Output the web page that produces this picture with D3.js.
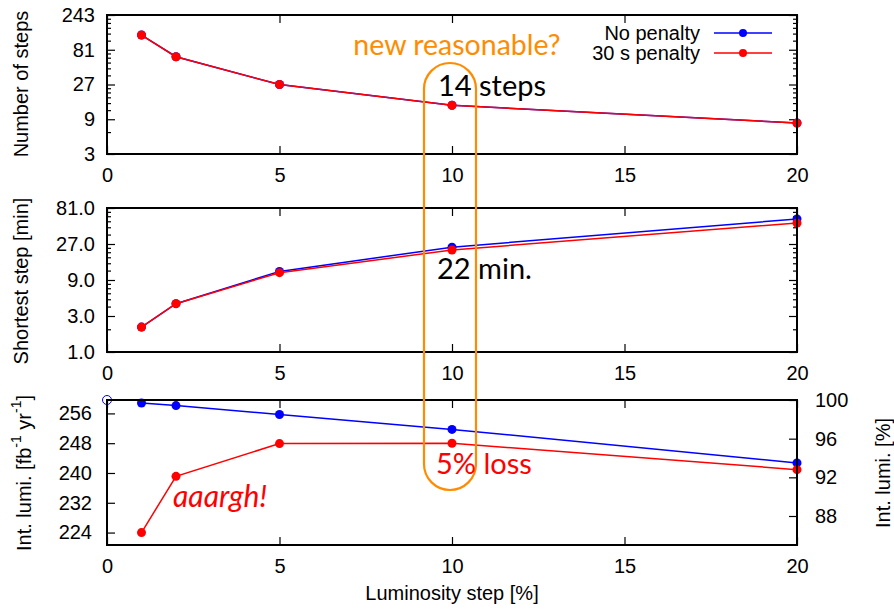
<!DOCTYPE html>
<html>
<head>
<meta charset="utf-8">
<script src="https://cdn.jsdelivr.net/npm/d3@7"></script>
<style>
  body { margin: 0; background: #fff; }
  svg { display: block; font-family: "Liberation Sans", Arial, sans-serif; }
  .tick line { stroke: #000; stroke-width: 1.2; }
  .tick text { fill: #000; font-size: 20px; }
</style>
</head>
<body>
<div id="chart"></div>
<script>
// ---- data ----
const lumiSteps = [1, 2, 5, 10, 20];              // luminosity step [%]
const nStepsNoPenalty = [129, 65, 27, 14, 8];
const nStepsPenalty = [129, 65, 27, 14, 8];
const shortestNoPenalty = [2.14, 4.37, 11.7, 24.5, 57.9];
const shortestPenalty = [2.14, 4.37, 11.25, 22.5, 51.3];
const lumiNoPenalty = [258.8, 258.1, 255.7, 251.7, 242.7];
const lumiPenalty = [224.0, 239.1, 247.9, 248.0, 240.9];
const lumiIdeal = 259.6;                            // x = 0 reference (100 %)

const xTicks = [0, 5, 10, 15, 20];
const nStepsTicks = [3, 9, 27, 81, 243];
const shortestTicks = [1, 3, 9, 27, 81];
const lumiTicks = [224, 232, 240, 248, 256];
const lumiPctTicks = [88, 92, 96, 100];
const lumiPctRange = [85, 100];

const seriesNames = ["No penalty", "30 s penalty"];
const seriesColors = ["#0000ff", "#ff0000"];

// ---- layout ----
const W = 894, H = 609;
const left = 107, right = 797;
const panels = [
  { top: 15, bottom: 154 },
  { top: 208, bottom: 352 },
  { top: 400, bottom: 545 }
];
const orange = "#ff8c00";

const svg = d3.select("#chart").append("svg")
  .attr("width", W).attr("height", H);

const x = d3.scaleLinear().domain([0, 20]).range([left, right]);

// gnuplot style minor tics for log base 3
function logMinor(dom) {
  const out = [];
  for (let d = dom[0]; d < dom[1] - 1e-9; d *= 3) {
    const ks = d === dom[0] ? [2] : [4 / 3, 5 / 3, 2, 7 / 3, 8 / 3];
    ks.forEach(k => out.push(d * k));
  }
  return out;
}

function drawFrame(p) {
  // x axis at bottom and mirrored at top
  svg.append("g")
    .attr("transform", "translate(0," + p.bottom + ")")
    .call(d3.axisBottom(x).tickValues(xTicks).tickSize(-8).tickPadding(14))
    .call(g => g.select(".domain").remove());
  svg.append("g")
    .attr("transform", "translate(0," + p.top + ")")
    .call(d3.axisTop(x).tickValues(xTicks).tickSize(-8).tickFormat(""))
    .call(g => g.select(".domain").remove());
}

function drawBorder(p) {
  svg.append("rect")
    .attr("x", left).attr("y", p.top)
    .attr("width", right - left).attr("height", p.bottom - p.top)
    .attr("fill", "none").attr("stroke", "#000").attr("stroke-width", 2);
}

function drawLogY(y, ticks, fmt) {
  const minor = logMinor(y.domain());
  svg.append("g").attr("transform", "translate(" + left + ",0)")
    .call(d3.axisLeft(y).tickValues(ticks).tickSize(-8).tickPadding(12).tickFormat(fmt))
    .call(g => g.select(".domain").remove());
  svg.append("g").attr("transform", "translate(" + left + ",0)")
    .call(d3.axisLeft(y).tickValues(minor).tickSize(-4).tickFormat(""))
    .call(g => g.select(".domain").remove());
  svg.append("g").attr("transform", "translate(" + right + ",0)")
    .call(d3.axisRight(y).tickValues(ticks).tickSize(-8).tickFormat(""))
    .call(g => g.select(".domain").remove());
  svg.append("g").attr("transform", "translate(" + right + ",0)")
    .call(d3.axisRight(y).tickValues(minor).tickSize(-4).tickFormat(""))
    .call(g => g.select(".domain").remove());
}

function plotSeries(y, values, color) {
  const pts = lumiSteps.map((s, i) => [s, values[i]]);
  svg.append("path")
    .datum(pts)
    .attr("fill", "none")
    .attr("stroke", color)
    .attr("stroke-width", 1.5)
    .attr("d", d3.line().x(d => x(d[0])).y(d => y(d[1])));
  svg.append("g").selectAll("circle")
    .data(pts).enter().append("circle")
    .attr("cx", d => x(d[0])).attr("cy", d => y(d[1]))
    .attr("r", 4.5).attr("fill", color);
}

function yTitle(text, cx, cy) {
  return svg.append("text")
    .attr("transform", "translate(" + cx + "," + cy + ") rotate(-90)")
    .attr("text-anchor", "middle")
    .attr("dominant-baseline", "central")
    .attr("font-size", 20)
    .text(text);
}

// ---- panel 1: number of steps ----
const y1 = d3.scaleLog().base(3).domain([3, 243]).range([panels[0].bottom, panels[0].top]);
drawFrame(panels[0]);
drawLogY(y1, nStepsTicks, d3.format("d"));
plotSeries(y1, nStepsNoPenalty, seriesColors[0]);
plotSeries(y1, nStepsPenalty, seriesColors[1]);
drawBorder(panels[0]);
yTitle("Number of steps", 21, 84);

// ---- panel 2: shortest step ----
const y2 = d3.scaleLog().base(3).domain([1, 81]).range([panels[1].bottom, panels[1].top]);
drawFrame(panels[1]);
drawLogY(y2, shortestTicks, d3.format(".1f"));
plotSeries(y2, shortestNoPenalty, seriesColors[0]);
plotSeries(y2, shortestPenalty, seriesColors[1]);
drawBorder(panels[1]);
yTitle("Shortest step [min]", 21, 281);

// ---- panel 3: integrated luminosity ----
const y3 = d3.scaleLinear()
  .domain([lumiIdeal * lumiPctRange[0] / 100, lumiIdeal])
  .range([panels[2].bottom, panels[2].top]);
const y3pct = d3.scaleLinear().domain(lumiPctRange).range([panels[2].bottom, panels[2].top]);
drawFrame(panels[2]);
svg.append("g").attr("transform", "translate(" + left + ",0)")
  .call(d3.axisLeft(y3).tickValues(lumiTicks).tickSize(-8).tickPadding(15))
  .call(g => g.select(".domain").remove());
svg.append("g").attr("transform", "translate(" + right + ",0)")
  .call(d3.axisRight(y3pct).tickValues(lumiPctTicks).tickSize(-8).tickPadding(18))
  .call(g => g.select(".domain").remove());
plotSeries(y3, lumiNoPenalty, seriesColors[0]);
plotSeries(y3, lumiPenalty, seriesColors[1]);
svg.append("circle")
  .attr("cx", x(0)).attr("cy", y3(lumiIdeal)).attr("r", 4.5)
  .attr("fill", "none").attr("stroke", seriesColors[0]).attr("stroke-width", 1);
drawBorder(panels[2]);

const lumiTitle = svg.append("text")
  .attr("transform", "translate(24,473) rotate(-90)")
  .attr("text-anchor", "middle")
  .attr("dominant-baseline", "central")
  .attr("font-size", 20);
lumiTitle.append("tspan").text("Int. lumi. [fb");
lumiTitle.append("tspan").attr("font-size", 14).attr("dy", -8).text("-1");
lumiTitle.append("tspan").attr("dy", 8).text(" yr");
lumiTitle.append("tspan").attr("font-size", 14).attr("dy", -8).text("-1");
lumiTitle.append("tspan").attr("dy", 8).text("]");
yTitle("Int. lumi. [%]", 883, 473);

svg.append("text")
  .attr("x", (left + right) / 2).attr("y", 600)
  .attr("text-anchor", "middle").attr("font-size", 20)
  .text("Luminosity step [%]");

// ---- legend ----
seriesNames.forEach((name, i) => {
  const ly = 33 + i * 20;
  svg.append("text").attr("x", 700).attr("y", ly)
    .attr("text-anchor", "end").attr("dominant-baseline", "central")
    .attr("font-size", 20).text(name);
  svg.append("line").attr("x1", 714).attr("x2", 772).attr("y1", ly).attr("y2", ly)
    .attr("stroke", seriesColors[i]).attr("stroke-width", 1.5);
  svg.append("circle").attr("cx", 743).attr("cy", ly).attr("r", 4).attr("fill", seriesColors[i]);
});

// ---- annotations ----
const cx10 = x(10) - 2;
svg.append("rect")
  .attr("x", cx10 - 26).attr("y", 63)
  .attr("width", 52).attr("height", 427)
  .attr("rx", 26).attr("ry", 26)
  .attr("fill", "none").attr("stroke", orange).attr("stroke-width", 2.2);

const annFont = "Lato, 'Noto Sans', sans-serif";
svg.append("text").attr("x", 457).attr("y", 55)
  .attr("text-anchor", "middle").attr("font-family", annFont)
  .attr("font-size", 28.5).attr("fill", orange).text("new reasonable?");
svg.append("text").attr("x", 438).attr("y", 96)
  .attr("font-family", annFont).attr("font-size", 29).attr("fill", "#000").text("14 steps");
svg.append("text").attr("x", 437).attr("y", 279)
  .attr("font-family", annFont).attr("font-size", 29).attr("fill", "#000").text("22 min.");
svg.append("text").attr("x", 436).attr("y", 474)
  .attr("font-family", annFont).attr("font-size", 29).attr("fill", "#ff0000").text("5% loss");
svg.append("text").attr("x", 173).attr("y", 507)
  .attr("font-family", annFont).attr("font-style", "italic")
  .attr("font-size", 30).attr("fill", "#ff0000").text("aaargh!");
</script>
</body>
</html>
